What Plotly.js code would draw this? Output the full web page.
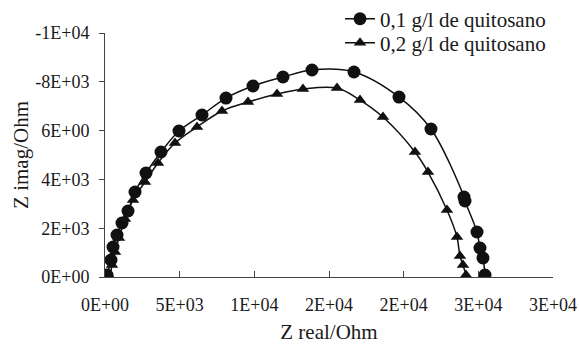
<!DOCTYPE html>
<html>
<head>
<meta charset="utf-8">
<script src="https://cdn.plot.ly/plotly-3.0.1.min.js"></script>
<style>html,body{margin:0;padding:0;background:#fff;}#chart{width:579px;height:348px;}</style>
</head>
<body>
<div id="chart"></div>
<script>
// Series 1: 0,1 g/l de quitosano (Z real, Z imag)
const zReal01 = [134, 402, 536, 804, 1138, 1540, 2009, 2745, 3750, 4955, 6495, 8102, 9910, 11919, 13861, 16673, 19686, 21829, 24039, 24106, 24910, 25110, 25311, 25445];
const zImag01 = [-82, -697, -1230, -1721, -2213, -2705, -3483, -4262, -5123, -5983, -6639, -7335, -7827, -8196, -8483, -8401, -7376, -6065, -3278, -3114, -1844, -1188, -779, -82];
// Series 2: 0,2 g/l de quitosano
const zReal02 = [335, 469, 670, 937, 1339, 1875, 2678, 3549, 4687, 6160, 7834, 9575, 11517, 13258, 15535, 17075, 18615, 20758, 21628, 22900, 23570, 23771, 23972, 24173];
const zImag02 = [0, -492, -1025, -1598, -2377, -3155, -3893, -4672, -5491, -6147, -6803, -7171, -7499, -7704, -7745, -7253, -6557, -5123, -4303, -2746, -1639, -861, -492, -82];

const seriesNames = ["0,1 g/l de quitosano", "0,2 g/l de quitosano"];
const xTickVals = [0, 5000, 10000, 15000, 20000, 25000, 30000];
const xTickText = ["0E+00", "5E+03", "1E+04", "2E+04", "2E+04", "3E+04", "3E+04"];
const yTickVals = [0, -2000, -4000, -6000, -8000, -10000];
const yTickText = ["0E+00", "2E+03", "4E+03", "6E+00", "-8E+03", "-1E+04"];

const font = "'Liberation Serif', 'Times New Roman', serif";
const ink = "#1a1a1a";

const traces = [
  {x: zReal01, y: zImag01, name: seriesNames[0], type: "scatter", mode: "lines+markers", legend: "legend",
   line: {color: "#111", width: 1.5, shape: "spline"},
   marker: {symbol: "circle", size: 13, color: "#111"}},
  {x: zReal02, y: zImag02, name: seriesNames[1], type: "scatter", mode: "lines+markers", legend: "legend2",
   line: {color: "#111", width: 1.5, shape: "spline"},
   marker: {symbol: "triangle-up", size: 11, color: "#111"}}
];

const legendBase = {x: 0.5246, xanchor: "left", yanchor: "middle",
  font: {family: font, size: 21, color: ink}, bgcolor: "rgba(0,0,0,0)", borderwidth: 0};

const layout = {
  width: 579, height: 348,
  margin: {l: 105, r: 26, t: 33, b: 71, autoexpand: false},
  paper_bgcolor: "#fff", plot_bgcolor: "#fff",
  font: {family: font, color: ink, size: 18},
  showlegend: true,
  legend: Object.assign({}, legendBase, {y: 1.057}),
  legend2: Object.assign({}, legendBase, {y: 0.959}),
  xaxis: {range: [0, 30000], tickmode: "array", tickvals: xTickVals, ticktext: xTickText,
    showgrid: false, zeroline: false, showline: true, linecolor: "#444", linewidth: 1,
    ticks: "inside", ticklen: 6, tickcolor: "#444", ticklabelstandoff: 11,
    tickfont: {family: font, size: 18, color: ink},
    title: {text: "Z real/Ohm", font: {family: font, size: 21, color: ink}, standoff: 10}},
  yaxis: {range: [0, -10000], tickmode: "array", tickvals: yTickVals, ticktext: yTickText,
    showgrid: false, zeroline: false, showline: true, linecolor: "#444", linewidth: 1,
    ticks: "outside", ticklen: 5, tickcolor: "#444", ticklabelstandoff: 6,
    tickfont: {family: font, size: 18, color: ink},
    title: {text: "Z imag/Ohm", font: {family: font, size: 21, color: ink}, standoff: 0}}
};

Plotly.newPlot("chart", traces, layout, {displayModeBar: false, staticPlot: true});
</script>
</body>
</html>
